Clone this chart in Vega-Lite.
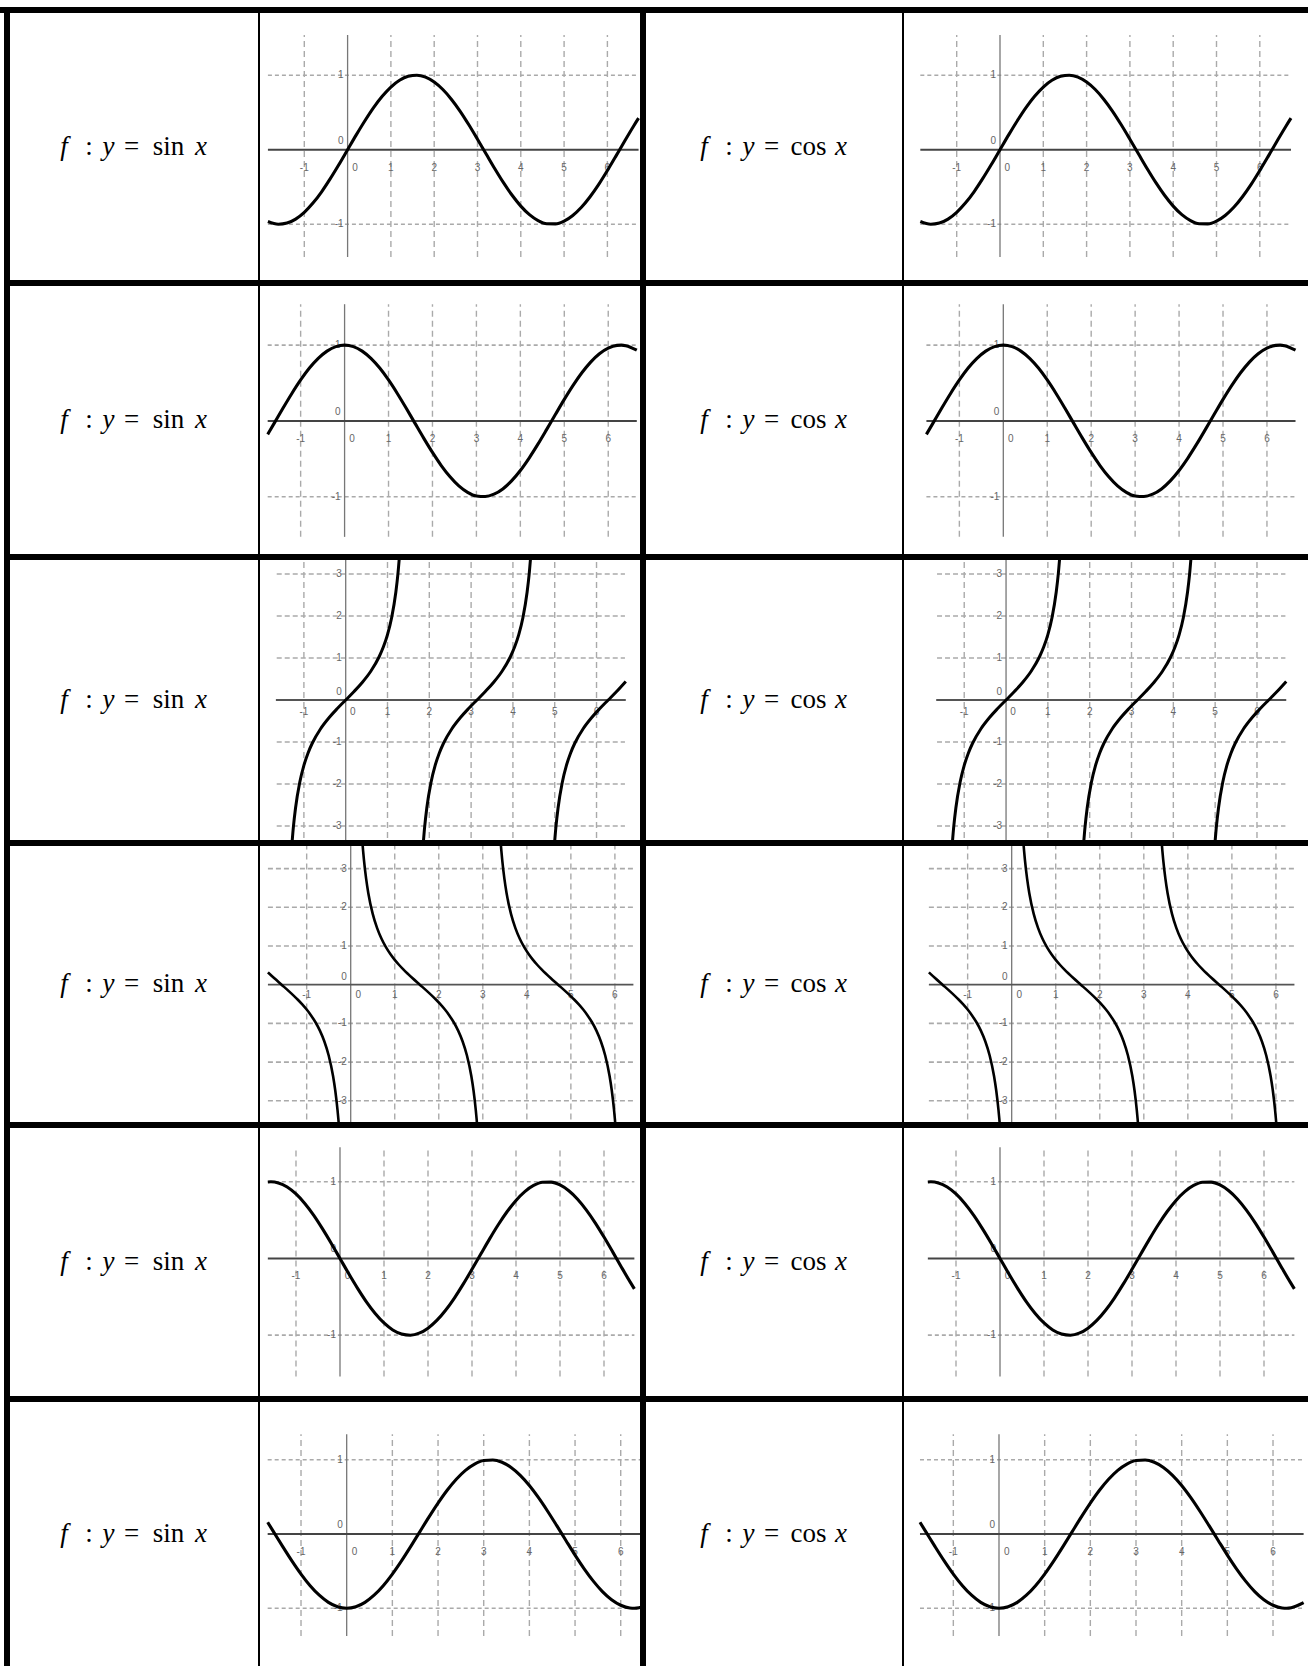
{
"$schema":"https://vega.github.io/schema/vega-lite/v6.json",
"background":"black",
"padding":0,
"config":{"view":{"fill":"white","stroke":null},
"style":{"lab":{"font":"Liberation Sans","fontSize":10,"color":"#666","baseline":"middle","align":"center"}}},
"datasets":{
"eq":[{"col":"sin","fn":"sin"},{"col":"cos","fn":"cos"}],
"pad":[{"a":0,"b":1}],
"g":[
{"r":1,"k":"v","x":-1,"y":-1.44,"y2":1.54},{"r":1,"k":"v","x":1,"y":-1.44,"y2":1.54},{"r":1,"k":"v","x":2,"y":-1.44,"y2":1.54},{"r":1,"k":"v","x":3,"y":-1.44,"y2":1.54},{"r":1,"k":"v","x":4,"y":-1.44,"y2":1.54},{"r":1,"k":"v","x":5,"y":-1.44,"y2":1.54},{"r":1,"k":"v","x":6,"y":-1.44,"y2":1.54},
{"r":1,"k":"h","y":1,"x":-1.84,"x2":6.72},{"r":1,"k":"h","y":-1,"x":-1.84,"x2":6.72},
{"r":1,"k":"ax","y":0,"x":-1.84,"x2":6.72},{"r":1,"k":"ay","x":0,"y":-1.44,"y2":1.54},
{"r":1,"k":"lx","t":"-1","x":-1,"y":-0.24},{"r":1,"k":"lx","t":"0","x":0.17,"y":-0.24},{"r":1,"k":"lx","t":"1","x":1,"y":-0.24},{"r":1,"k":"lx","t":"2","x":2,"y":-0.24},{"r":1,"k":"lx","t":"3","x":3,"y":-0.24},{"r":1,"k":"lx","t":"4","x":4,"y":-0.24},{"r":1,"k":"lx","t":"5","x":5,"y":-0.24},{"r":1,"k":"lx","t":"6","x":6,"y":-0.24},
{"r":1,"k":"ly","t":"1","x":0,"y":1},{"r":1,"k":"ly","t":"0","x":0,"y":0.12},{"r":1,"k":"ly","t":"-1","x":0,"y":-1},
{"r":2,"k":"v","x":-1,"y":-1.53,"y2":1.54},{"r":2,"k":"v","x":1,"y":-1.53,"y2":1.54},{"r":2,"k":"v","x":2,"y":-1.53,"y2":1.54},{"r":2,"k":"v","x":3,"y":-1.53,"y2":1.54},{"r":2,"k":"v","x":4,"y":-1.53,"y2":1.54},{"r":2,"k":"v","x":5,"y":-1.53,"y2":1.54},{"r":2,"k":"v","x":6,"y":-1.53,"y2":1.54},
{"r":2,"k":"h","y":1,"x":-1.75,"x2":6.65},{"r":2,"k":"h","y":-1,"x":-1.75,"x2":6.65},
{"r":2,"k":"ax","y":0,"x":-1.75,"x2":6.65},{"r":2,"k":"ay","x":0,"y":-1.53,"y2":1.54},
{"r":2,"k":"lx","t":"-1","x":-1,"y":-0.24},{"r":2,"k":"lx","t":"0","x":0.17,"y":-0.24},{"r":2,"k":"lx","t":"1","x":1,"y":-0.24},{"r":2,"k":"lx","t":"2","x":2,"y":-0.24},{"r":2,"k":"lx","t":"3","x":3,"y":-0.24},{"r":2,"k":"lx","t":"4","x":4,"y":-0.24},{"r":2,"k":"lx","t":"5","x":5,"y":-0.24},{"r":2,"k":"lx","t":"6","x":6,"y":-0.24},
{"r":2,"k":"ly","t":"1","x":0,"y":1},{"r":2,"k":"ly","t":"0","x":0,"y":0.12},{"r":2,"k":"ly","t":"-1","x":0,"y":-1},
{"r":3,"k":"v","x":-1,"y":-4,"y2":4},{"r":3,"k":"v","x":1,"y":-4,"y2":4},{"r":3,"k":"v","x":2,"y":-4,"y2":4},{"r":3,"k":"v","x":3,"y":-4,"y2":4},{"r":3,"k":"v","x":4,"y":-4,"y2":4},{"r":3,"k":"v","x":5,"y":-4,"y2":4},{"r":3,"k":"v","x":6,"y":-4,"y2":4},
{"r":3,"k":"h","y":3,"x":-1.65,"x2":6.68},{"r":3,"k":"h","y":2,"x":-1.65,"x2":6.68},{"r":3,"k":"h","y":1,"x":-1.65,"x2":6.68},{"r":3,"k":"h","y":-1,"x":-1.65,"x2":6.68},{"r":3,"k":"h","y":-2,"x":-1.65,"x2":6.68},{"r":3,"k":"h","y":-3,"x":-1.65,"x2":6.68},
{"r":3,"k":"ax","y":0,"x":-1.67,"x2":6.7},{"r":3,"k":"ay","x":0,"y":-4,"y2":4},
{"r":3,"k":"lx","t":"-1","x":-1,"y":-0.28},{"r":3,"k":"lx","t":"0","x":0.17,"y":-0.28},{"r":3,"k":"lx","t":"1","x":1,"y":-0.28},{"r":3,"k":"lx","t":"2","x":2,"y":-0.28},{"r":3,"k":"lx","t":"3","x":3,"y":-0.28},{"r":3,"k":"lx","t":"4","x":4,"y":-0.28},{"r":3,"k":"lx","t":"5","x":5,"y":-0.28},{"r":3,"k":"lx","t":"6","x":6,"y":-0.28},
{"r":3,"k":"ly","t":"3","x":0,"y":3},{"r":3,"k":"ly","t":"2","x":0,"y":2},{"r":3,"k":"ly","t":"1","x":0,"y":1},{"r":3,"k":"ly","t":"0","x":0,"y":0.18},{"r":3,"k":"ly","t":"-1","x":0,"y":-1},{"r":3,"k":"ly","t":"-2","x":0,"y":-2},{"r":3,"k":"ly","t":"-3","x":0,"y":-3},
{"r":4,"k":"v","x":-1,"y":-4,"y2":4},{"r":4,"k":"v","x":1,"y":-4,"y2":4},{"r":4,"k":"v","x":2,"y":-4,"y2":4},{"r":4,"k":"v","x":3,"y":-4,"y2":4},{"r":4,"k":"v","x":4,"y":-4,"y2":4},{"r":4,"k":"v","x":5,"y":-4,"y2":4},{"r":4,"k":"v","x":6,"y":-4,"y2":4},
{"r":4,"k":"h","y":3,"x":-1.88,"x2":6.42},{"r":4,"k":"h","y":2,"x":-1.88,"x2":6.42},{"r":4,"k":"h","y":1,"x":-1.88,"x2":6.42},{"r":4,"k":"h","y":-1,"x":-1.88,"x2":6.42},{"r":4,"k":"h","y":-2,"x":-1.88,"x2":6.42},{"r":4,"k":"h","y":-3,"x":-1.88,"x2":6.42},
{"r":4,"k":"ax","y":0,"x":-1.88,"x2":6.42},{"r":4,"k":"ay","x":0,"y":-4,"y2":4},
{"r":4,"k":"lx","t":"-1","x":-1,"y":-0.26},{"r":4,"k":"lx","t":"0","x":0.17,"y":-0.26},{"r":4,"k":"lx","t":"1","x":1,"y":-0.26},{"r":4,"k":"lx","t":"2","x":2,"y":-0.26},{"r":4,"k":"lx","t":"3","x":3,"y":-0.26},{"r":4,"k":"lx","t":"4","x":4,"y":-0.26},{"r":4,"k":"lx","t":"5","x":5,"y":-0.26},{"r":4,"k":"lx","t":"6","x":6,"y":-0.26},
{"r":4,"k":"ly","t":"3","x":0,"y":3},{"r":4,"k":"ly","t":"2","x":0,"y":2},{"r":4,"k":"ly","t":"1","x":0,"y":1},{"r":4,"k":"ly","t":"0","x":0,"y":0.2},{"r":4,"k":"ly","t":"-1","x":0,"y":-1},{"r":4,"k":"ly","t":"-2","x":0,"y":-2},{"r":4,"k":"ly","t":"-3","x":0,"y":-3},
{"r":5,"k":"v","x":-1,"y":-1.54,"y2":1.45},{"r":5,"k":"v","x":1,"y":-1.54,"y2":1.45},{"r":5,"k":"v","x":2,"y":-1.54,"y2":1.45},{"r":5,"k":"v","x":3,"y":-1.54,"y2":1.45},{"r":5,"k":"v","x":4,"y":-1.54,"y2":1.45},{"r":5,"k":"v","x":5,"y":-1.54,"y2":1.45},{"r":5,"k":"v","x":6,"y":-1.54,"y2":1.45},
{"r":5,"k":"h","y":1,"x":-1.64,"x2":6.69},{"r":5,"k":"h","y":-1,"x":-1.64,"x2":6.69},
{"r":5,"k":"ax","y":0,"x":-1.64,"x2":6.69},{"r":5,"k":"ay","x":0,"y":-1.54,"y2":1.45},
{"r":5,"k":"lx","t":"-1","x":-1,"y":-0.23},{"r":5,"k":"lx","t":"0","x":0.17,"y":-0.23},{"r":5,"k":"lx","t":"1","x":1,"y":-0.23},{"r":5,"k":"lx","t":"2","x":2,"y":-0.23},{"r":5,"k":"lx","t":"3","x":3,"y":-0.23},{"r":5,"k":"lx","t":"4","x":4,"y":-0.23},{"r":5,"k":"lx","t":"5","x":5,"y":-0.23},{"r":5,"k":"lx","t":"6","x":6,"y":-0.23},
{"r":5,"k":"ly","t":"1","x":0,"y":1},{"r":5,"k":"ly","t":"0","x":0,"y":0.12},{"r":5,"k":"ly","t":"-1","x":0,"y":-1},
{"r":6,"k":"v","x":-1,"y":-1.375,"y2":1.344},{"r":6,"k":"v","x":1,"y":-1.375,"y2":1.344},{"r":6,"k":"v","x":2,"y":-1.375,"y2":1.344},{"r":6,"k":"v","x":3,"y":-1.375,"y2":1.344},{"r":6,"k":"v","x":4,"y":-1.375,"y2":1.344},{"r":6,"k":"v","x":5,"y":-1.375,"y2":1.344},{"r":6,"k":"v","x":6,"y":-1.375,"y2":1.344},
{"r":6,"k":"h","y":1,"x":-1.73,"x2":6.67},{"r":6,"k":"h","y":-1,"x":-1.73,"x2":6.67},
{"r":6,"k":"ax","y":0,"x":-1.73,"x2":6.67},{"r":6,"k":"ay","x":0,"y":-1.375,"y2":1.344},
{"r":6,"k":"lx","t":"-1","x":-1,"y":-0.24},{"r":6,"k":"lx","t":"0","x":0.17,"y":-0.24},{"r":6,"k":"lx","t":"1","x":1,"y":-0.24},{"r":6,"k":"lx","t":"2","x":2,"y":-0.24},{"r":6,"k":"lx","t":"3","x":3,"y":-0.24},{"r":6,"k":"lx","t":"4","x":4,"y":-0.24},{"r":6,"k":"lx","t":"5","x":5,"y":-0.24},{"r":6,"k":"lx","t":"6","x":6,"y":-0.24},
{"r":6,"k":"ly","t":"1","x":0,"y":1},{"r":6,"k":"ly","t":"0","x":0,"y":0.12},{"r":6,"k":"ly","t":"-1","x":0,"y":-1},

{"r":1,"k":"c","b":1,"x":-1.84,"y":-0.964},{"r":1,"k":"c","b":1,"x":-1.6,"y":-1},{"r":1,"k":"c","b":1,"x":-1.4,"y":-0.985},{"r":1,"k":"c","b":1,"x":-1.2,"y":-0.932},{"r":1,"k":"c","b":1,"x":-1,"y":-0.841},{"r":1,"k":"c","b":1,"x":-0.8,"y":-0.717},{"r":1,"k":"c","b":1,"x":-0.6,"y":-0.565},{"r":1,"k":"c","b":1,"x":-0.4,"y":-0.389},{"r":1,"k":"c","b":1,"x":-0.2,"y":-0.199},{"r":1,"k":"c","b":1,"x":0,"y":0},{"r":1,"k":"c","b":1,"x":0.2,"y":0.199},{"r":1,"k":"c","b":1,"x":0.4,"y":0.389},{"r":1,"k":"c","b":1,"x":0.6,"y":0.565},{"r":1,"k":"c","b":1,"x":0.8,"y":0.717},{"r":1,"k":"c","b":1,"x":1,"y":0.841},{"r":1,"k":"c","b":1,"x":1.2,"y":0.932},{"r":1,"k":"c","b":1,"x":1.4,"y":0.985},{"r":1,"k":"c","b":1,"x":1.6,"y":1},{"r":1,"k":"c","b":1,"x":1.8,"y":0.974},{"r":1,"k":"c","b":1,"x":2,"y":0.909},{"r":1,"k":"c","b":1,"x":2.2,"y":0.808},{"r":1,"k":"c","b":1,"x":2.4,"y":0.675},{"r":1,"k":"c","b":1,"x":2.6,"y":0.516},{"r":1,"k":"c","b":1,"x":2.8,"y":0.335},{"r":1,"k":"c","b":1,"x":3,"y":0.141},{"r":1,"k":"c","b":1,"x":3.2,"y":-0.058},{"r":1,"k":"c","b":1,"x":3.4,"y":-0.256},{"r":1,"k":"c","b":1,"x":3.6,"y":-0.443},{"r":1,"k":"c","b":1,"x":3.8,"y":-0.612},{"r":1,"k":"c","b":1,"x":4,"y":-0.757},{"r":1,"k":"c","b":1,"x":4.2,"y":-0.872},{"r":1,"k":"c","b":1,"x":4.4,"y":-0.952},{"r":1,"k":"c","b":1,"x":4.6,"y":-0.994},{"r":1,"k":"c","b":1,"x":4.8,"y":-0.996},{"r":1,"k":"c","b":1,"x":5,"y":-0.959},{"r":1,"k":"c","b":1,"x":5.2,"y":-0.883},{"r":1,"k":"c","b":1,"x":5.4,"y":-0.773},{"r":1,"k":"c","b":1,"x":5.6,"y":-0.631},{"r":1,"k":"c","b":1,"x":5.8,"y":-0.465},{"r":1,"k":"c","b":1,"x":6,"y":-0.279},{"r":1,"k":"c","b":1,"x":6.2,"y":-0.083},{"r":1,"k":"c","b":1,"x":6.4,"y":0.117},{"r":1,"k":"c","b":1,"x":6.6,"y":0.312},{"r":1,"k":"c","b":1,"x":6.72,"y":0.423},

{"r":2,"k":"c","b":1,"x":-1.75,"y":-0.178},{"r":2,"k":"c","b":1,"x":-1.6,"y":-0.029},{"r":2,"k":"c","b":1,"x":-1.4,"y":0.17},{"r":2,"k":"c","b":1,"x":-1.2,"y":0.362},{"r":2,"k":"c","b":1,"x":-1,"y":0.54},{"r":2,"k":"c","b":1,"x":-0.8,"y":0.697},{"r":2,"k":"c","b":1,"x":-0.6,"y":0.825},{"r":2,"k":"c","b":1,"x":-0.4,"y":0.921},{"r":2,"k":"c","b":1,"x":-0.2,"y":0.98},{"r":2,"k":"c","b":1,"x":0,"y":1},{"r":2,"k":"c","b":1,"x":0.2,"y":0.98},{"r":2,"k":"c","b":1,"x":0.4,"y":0.921},{"r":2,"k":"c","b":1,"x":0.6,"y":0.825},{"r":2,"k":"c","b":1,"x":0.8,"y":0.697},{"r":2,"k":"c","b":1,"x":1,"y":0.54},{"r":2,"k":"c","b":1,"x":1.2,"y":0.362},{"r":2,"k":"c","b":1,"x":1.4,"y":0.17},{"r":2,"k":"c","b":1,"x":1.6,"y":-0.029},{"r":2,"k":"c","b":1,"x":1.8,"y":-0.227},{"r":2,"k":"c","b":1,"x":2,"y":-0.416},{"r":2,"k":"c","b":1,"x":2.2,"y":-0.589},{"r":2,"k":"c","b":1,"x":2.4,"y":-0.737},{"r":2,"k":"c","b":1,"x":2.6,"y":-0.857},{"r":2,"k":"c","b":1,"x":2.8,"y":-0.942},{"r":2,"k":"c","b":1,"x":3,"y":-0.99},{"r":2,"k":"c","b":1,"x":3.2,"y":-0.998},{"r":2,"k":"c","b":1,"x":3.4,"y":-0.967},{"r":2,"k":"c","b":1,"x":3.6,"y":-0.897},{"r":2,"k":"c","b":1,"x":3.8,"y":-0.791},{"r":2,"k":"c","b":1,"x":4,"y":-0.654},{"r":2,"k":"c","b":1,"x":4.2,"y":-0.49},{"r":2,"k":"c","b":1,"x":4.4,"y":-0.307},{"r":2,"k":"c","b":1,"x":4.6,"y":-0.112},{"r":2,"k":"c","b":1,"x":4.8,"y":0.087},{"r":2,"k":"c","b":1,"x":5,"y":0.284},{"r":2,"k":"c","b":1,"x":5.2,"y":0.469},{"r":2,"k":"c","b":1,"x":5.4,"y":0.635},{"r":2,"k":"c","b":1,"x":5.6,"y":0.776},{"r":2,"k":"c","b":1,"x":5.8,"y":0.886},{"r":2,"k":"c","b":1,"x":6,"y":0.96},{"r":2,"k":"c","b":1,"x":6.2,"y":0.997},{"r":2,"k":"c","b":1,"x":6.3,"y":1},{"r":2,"k":"c","b":1,"x":6.4,"y":0.993},{"r":2,"k":"c","b":1,"x":6.65,"y":0.933},

{"r":3,"k":"c","b":1,"x":-1.3,"y":-3.602},{"r":3,"k":"c","b":1,"x":-1.25,"y":-3.01},{"r":3,"k":"c","b":1,"x":-1.2,"y":-2.572},{"r":3,"k":"c","b":1,"x":-1.1,"y":-1.965},{"r":3,"k":"c","b":1,"x":-1,"y":-1.557},{"r":3,"k":"c","b":1,"x":-0.9,"y":-1.26},{"r":3,"k":"c","b":1,"x":-0.8,"y":-1.03},{"r":3,"k":"c","b":1,"x":-0.6,"y":-0.684},{"r":3,"k":"c","b":1,"x":-0.4,"y":-0.423},{"r":3,"k":"c","b":1,"x":-0.2,"y":-0.203},{"r":3,"k":"c","b":1,"x":0,"y":0},{"r":3,"k":"c","b":1,"x":0.2,"y":0.203},{"r":3,"k":"c","b":1,"x":0.4,"y":0.423},{"r":3,"k":"c","b":1,"x":0.6,"y":0.684},{"r":3,"k":"c","b":1,"x":0.8,"y":1.03},{"r":3,"k":"c","b":1,"x":0.9,"y":1.26},{"r":3,"k":"c","b":1,"x":1,"y":1.557},{"r":3,"k":"c","b":1,"x":1.1,"y":1.965},{"r":3,"k":"c","b":1,"x":1.2,"y":2.572},{"r":3,"k":"c","b":1,"x":1.25,"y":3.01},{"r":3,"k":"c","b":1,"x":1.3,"y":3.602},
{"r":3,"k":"c","b":2,"x":1.84,"y":-3.602},{"r":3,"k":"c","b":2,"x":1.89,"y":-3.01},{"r":3,"k":"c","b":2,"x":1.94,"y":-2.572},{"r":3,"k":"c","b":2,"x":2.04,"y":-1.965},{"r":3,"k":"c","b":2,"x":2.14,"y":-1.557},{"r":3,"k":"c","b":2,"x":2.24,"y":-1.26},{"r":3,"k":"c","b":2,"x":2.34,"y":-1.03},{"r":3,"k":"c","b":2,"x":2.54,"y":-0.684},{"r":3,"k":"c","b":2,"x":2.74,"y":-0.423},{"r":3,"k":"c","b":2,"x":2.94,"y":-0.203},{"r":3,"k":"c","b":2,"x":3.14,"y":0},{"r":3,"k":"c","b":2,"x":3.34,"y":0.203},{"r":3,"k":"c","b":2,"x":3.54,"y":0.423},{"r":3,"k":"c","b":2,"x":3.74,"y":0.684},{"r":3,"k":"c","b":2,"x":3.94,"y":1.03},{"r":3,"k":"c","b":2,"x":4.04,"y":1.26},{"r":3,"k":"c","b":2,"x":4.14,"y":1.557},{"r":3,"k":"c","b":2,"x":4.24,"y":1.965},{"r":3,"k":"c","b":2,"x":4.34,"y":2.572},{"r":3,"k":"c","b":2,"x":4.39,"y":3.01},{"r":3,"k":"c","b":2,"x":4.44,"y":3.602},
{"r":3,"k":"c","b":3,"x":4.98,"y":-3.602},{"r":3,"k":"c","b":3,"x":5.03,"y":-3.01},{"r":3,"k":"c","b":3,"x":5.08,"y":-2.572},{"r":3,"k":"c","b":3,"x":5.18,"y":-1.965},{"r":3,"k":"c","b":3,"x":5.28,"y":-1.557},{"r":3,"k":"c","b":3,"x":5.38,"y":-1.26},{"r":3,"k":"c","b":3,"x":5.48,"y":-1.03},{"r":3,"k":"c","b":3,"x":5.68,"y":-0.684},{"r":3,"k":"c","b":3,"x":5.88,"y":-0.423},{"r":3,"k":"c","b":3,"x":6.08,"y":-0.203},{"r":3,"k":"c","b":3,"x":6.28,"y":0},{"r":3,"k":"c","b":3,"x":6.48,"y":0.203},{"r":3,"k":"c","b":3,"x":6.7,"y":0.443},

{"r":4,"k":"c","b":1,"x":-1.88,"y":0.319},{"r":4,"k":"c","b":1,"x":-1.74,"y":0.172},{"r":4,"k":"c","b":1,"x":-1.57,"y":0},{"r":4,"k":"c","b":1,"x":-1.4,"y":-0.172},{"r":4,"k":"c","b":1,"x":-1.2,"y":-0.389},{"r":4,"k":"c","b":1,"x":-1.1,"y":-0.509},{"r":4,"k":"c","b":1,"x":-1,"y":-0.642},{"r":4,"k":"c","b":1,"x":-0.9,"y":-0.794},{"r":4,"k":"c","b":1,"x":-0.8,"y":-0.971},{"r":4,"k":"c","b":1,"x":-0.7,"y":-1.187},{"r":4,"k":"c","b":1,"x":-0.6,"y":-1.462},{"r":4,"k":"c","b":1,"x":-0.5,"y":-1.83},{"r":4,"k":"c","b":1,"x":-0.4,"y":-2.365},{"r":4,"k":"c","b":1,"x":-0.35,"y":-2.74},{"r":4,"k":"c","b":1,"x":-0.3,"y":-3.233},{"r":4,"k":"c","b":1,"x":-0.28,"y":-3.477},{"r":4,"k":"c","b":1,"x":-0.26,"y":-3.759},
{"r":4,"k":"c","b":2,"x":0.26,"y":3.759},{"r":4,"k":"c","b":2,"x":0.28,"y":3.477},{"r":4,"k":"c","b":2,"x":0.3,"y":3.233},{"r":4,"k":"c","b":2,"x":0.35,"y":2.74},{"r":4,"k":"c","b":2,"x":0.4,"y":2.365},{"r":4,"k":"c","b":2,"x":0.5,"y":1.83},{"r":4,"k":"c","b":2,"x":0.6,"y":1.462},{"r":4,"k":"c","b":2,"x":0.7,"y":1.187},{"r":4,"k":"c","b":2,"x":0.8,"y":0.971},{"r":4,"k":"c","b":2,"x":0.9,"y":0.794},{"r":4,"k":"c","b":2,"x":1,"y":0.642},{"r":4,"k":"c","b":2,"x":1.1,"y":0.509},{"r":4,"k":"c","b":2,"x":1.2,"y":0.389},{"r":4,"k":"c","b":2,"x":1.4,"y":0.172},{"r":4,"k":"c","b":2,"x":1.57,"y":0},{"r":4,"k":"c","b":2,"x":1.74,"y":-0.172},{"r":4,"k":"c","b":2,"x":1.94,"y":-0.389},{"r":4,"k":"c","b":2,"x":2.04,"y":-0.509},{"r":4,"k":"c","b":2,"x":2.14,"y":-0.642},{"r":4,"k":"c","b":2,"x":2.24,"y":-0.794},{"r":4,"k":"c","b":2,"x":2.34,"y":-0.971},{"r":4,"k":"c","b":2,"x":2.44,"y":-1.187},{"r":4,"k":"c","b":2,"x":2.54,"y":-1.462},{"r":4,"k":"c","b":2,"x":2.64,"y":-1.83},{"r":4,"k":"c","b":2,"x":2.74,"y":-2.365},{"r":4,"k":"c","b":2,"x":2.79,"y":-2.74},{"r":4,"k":"c","b":2,"x":2.84,"y":-3.233},{"r":4,"k":"c","b":2,"x":2.86,"y":-3.477},{"r":4,"k":"c","b":2,"x":2.88,"y":-3.759},
{"r":4,"k":"c","b":3,"x":3.4,"y":3.759},{"r":4,"k":"c","b":3,"x":3.42,"y":3.477},{"r":4,"k":"c","b":3,"x":3.44,"y":3.233},{"r":4,"k":"c","b":3,"x":3.49,"y":2.74},{"r":4,"k":"c","b":3,"x":3.54,"y":2.365},{"r":4,"k":"c","b":3,"x":3.64,"y":1.83},{"r":4,"k":"c","b":3,"x":3.74,"y":1.462},{"r":4,"k":"c","b":3,"x":3.84,"y":1.187},{"r":4,"k":"c","b":3,"x":3.94,"y":0.971},{"r":4,"k":"c","b":3,"x":4.04,"y":0.794},{"r":4,"k":"c","b":3,"x":4.14,"y":0.642},{"r":4,"k":"c","b":3,"x":4.24,"y":0.509},{"r":4,"k":"c","b":3,"x":4.34,"y":0.389},{"r":4,"k":"c","b":3,"x":4.54,"y":0.172},{"r":4,"k":"c","b":3,"x":4.71,"y":0},{"r":4,"k":"c","b":3,"x":4.88,"y":-0.172},{"r":4,"k":"c","b":3,"x":5.08,"y":-0.389},{"r":4,"k":"c","b":3,"x":5.18,"y":-0.509},{"r":4,"k":"c","b":3,"x":5.28,"y":-0.642},{"r":4,"k":"c","b":3,"x":5.38,"y":-0.794},{"r":4,"k":"c","b":3,"x":5.48,"y":-0.971},{"r":4,"k":"c","b":3,"x":5.58,"y":-1.187},{"r":4,"k":"c","b":3,"x":5.68,"y":-1.462},{"r":4,"k":"c","b":3,"x":5.78,"y":-1.83},{"r":4,"k":"c","b":3,"x":5.88,"y":-2.365},{"r":4,"k":"c","b":3,"x":5.93,"y":-2.74},{"r":4,"k":"c","b":3,"x":5.98,"y":-3.233},{"r":4,"k":"c","b":3,"x":6,"y":-3.477},{"r":4,"k":"c","b":3,"x":6.02,"y":-3.759},

{"r":5,"k":"c","b":1,"x":-1.64,"y":0.998},{"r":5,"k":"c","b":1,"x":-1.57,"y":1},{"r":5,"k":"c","b":1,"x":-1.4,"y":0.985},{"r":5,"k":"c","b":1,"x":-1.2,"y":0.932},{"r":5,"k":"c","b":1,"x":-1,"y":0.841},{"r":5,"k":"c","b":1,"x":-0.8,"y":0.717},{"r":5,"k":"c","b":1,"x":-0.6,"y":0.565},{"r":5,"k":"c","b":1,"x":-0.4,"y":0.389},{"r":5,"k":"c","b":1,"x":-0.2,"y":0.199},{"r":5,"k":"c","b":1,"x":0,"y":0},{"r":5,"k":"c","b":1,"x":0.2,"y":-0.199},{"r":5,"k":"c","b":1,"x":0.4,"y":-0.389},{"r":5,"k":"c","b":1,"x":0.6,"y":-0.565},{"r":5,"k":"c","b":1,"x":0.8,"y":-0.717},{"r":5,"k":"c","b":1,"x":1,"y":-0.841},{"r":5,"k":"c","b":1,"x":1.2,"y":-0.932},{"r":5,"k":"c","b":1,"x":1.4,"y":-0.985},{"r":5,"k":"c","b":1,"x":1.6,"y":-1},{"r":5,"k":"c","b":1,"x":1.8,"y":-0.974},{"r":5,"k":"c","b":1,"x":2,"y":-0.909},{"r":5,"k":"c","b":1,"x":2.2,"y":-0.808},{"r":5,"k":"c","b":1,"x":2.4,"y":-0.675},{"r":5,"k":"c","b":1,"x":2.6,"y":-0.516},{"r":5,"k":"c","b":1,"x":2.8,"y":-0.335},{"r":5,"k":"c","b":1,"x":3,"y":-0.141},{"r":5,"k":"c","b":1,"x":3.2,"y":0.058},{"r":5,"k":"c","b":1,"x":3.4,"y":0.256},{"r":5,"k":"c","b":1,"x":3.6,"y":0.443},{"r":5,"k":"c","b":1,"x":3.8,"y":0.612},{"r":5,"k":"c","b":1,"x":4,"y":0.757},{"r":5,"k":"c","b":1,"x":4.2,"y":0.872},{"r":5,"k":"c","b":1,"x":4.4,"y":0.952},{"r":5,"k":"c","b":1,"x":4.6,"y":0.994},{"r":5,"k":"c","b":1,"x":4.8,"y":0.996},{"r":5,"k":"c","b":1,"x":5,"y":0.959},{"r":5,"k":"c","b":1,"x":5.2,"y":0.883},{"r":5,"k":"c","b":1,"x":5.4,"y":0.773},{"r":5,"k":"c","b":1,"x":5.6,"y":0.631},{"r":5,"k":"c","b":1,"x":5.8,"y":0.465},{"r":5,"k":"c","b":1,"x":6,"y":0.279},{"r":5,"k":"c","b":1,"x":6.2,"y":0.083},{"r":5,"k":"c","b":1,"x":6.4,"y":-0.117},{"r":5,"k":"c","b":1,"x":6.6,"y":-0.312},{"r":5,"k":"c","b":1,"x":6.69,"y":-0.396},

{"r":6,"k":"c","b":1,"x":-1.73,"y":0.158},{"r":6,"k":"c","b":1,"x":-1.6,"y":0.029},{"r":6,"k":"c","b":1,"x":-1.4,"y":-0.17},{"r":6,"k":"c","b":1,"x":-1.2,"y":-0.362},{"r":6,"k":"c","b":1,"x":-1,"y":-0.54},{"r":6,"k":"c","b":1,"x":-0.8,"y":-0.697},{"r":6,"k":"c","b":1,"x":-0.6,"y":-0.825},{"r":6,"k":"c","b":1,"x":-0.4,"y":-0.921},{"r":6,"k":"c","b":1,"x":-0.2,"y":-0.98},{"r":6,"k":"c","b":1,"x":0,"y":-1},{"r":6,"k":"c","b":1,"x":0.2,"y":-0.98},{"r":6,"k":"c","b":1,"x":0.4,"y":-0.921},{"r":6,"k":"c","b":1,"x":0.6,"y":-0.825},{"r":6,"k":"c","b":1,"x":0.8,"y":-0.697},{"r":6,"k":"c","b":1,"x":1,"y":-0.54},{"r":6,"k":"c","b":1,"x":1.2,"y":-0.362},{"r":6,"k":"c","b":1,"x":1.4,"y":-0.17},{"r":6,"k":"c","b":1,"x":1.6,"y":0.029},{"r":6,"k":"c","b":1,"x":1.8,"y":0.227},{"r":6,"k":"c","b":1,"x":2,"y":0.416},{"r":6,"k":"c","b":1,"x":2.2,"y":0.589},{"r":6,"k":"c","b":1,"x":2.4,"y":0.737},{"r":6,"k":"c","b":1,"x":2.6,"y":0.857},{"r":6,"k":"c","b":1,"x":2.8,"y":0.942},{"r":6,"k":"c","b":1,"x":3,"y":0.99},{"r":6,"k":"c","b":1,"x":3.2,"y":0.998},{"r":6,"k":"c","b":1,"x":3.4,"y":0.967},{"r":6,"k":"c","b":1,"x":3.6,"y":0.897},{"r":6,"k":"c","b":1,"x":3.8,"y":0.791},{"r":6,"k":"c","b":1,"x":4,"y":0.654},{"r":6,"k":"c","b":1,"x":4.2,"y":0.49},{"r":6,"k":"c","b":1,"x":4.4,"y":0.307},{"r":6,"k":"c","b":1,"x":4.6,"y":0.112},{"r":6,"k":"c","b":1,"x":4.8,"y":-0.087},{"r":6,"k":"c","b":1,"x":5,"y":-0.284},{"r":6,"k":"c","b":1,"x":5.2,"y":-0.469},{"r":6,"k":"c","b":1,"x":5.4,"y":-0.635},{"r":6,"k":"c","b":1,"x":5.6,"y":-0.776},{"r":6,"k":"c","b":1,"x":5.8,"y":-0.886},{"r":6,"k":"c","b":1,"x":6,"y":-0.96},{"r":6,"k":"c","b":1,"x":6.2,"y":-0.997},{"r":6,"k":"c","b":1,"x":6.3,"y":-1},{"r":6,"k":"c","b":1,"x":6.4,"y":-0.993},{"r":6,"k":"c","b":1,"x":6.67,"y":-0.926}
]},
"spacing":6,
"vconcat":[
{"width":1308,"height":7,"data":{"name":"pad"},"mark":{"type":"rect","color":"white"},"encoding":{"x":{"field":"a","type":"quantitative","scale":{"domain":[0,1]},"axis":null},"x2":{"field":"b"},"y":{"field":"a","type":"quantitative","scale":{"domain":[0,1]},"axis":null},"y2":{"field":"b"}}},
{"spacing":6,"hconcat":[
{"width":4,"height":1653,"data":{"name":"pad"},"mark":{"type":"rect","color":"white"},"encoding":{"x":{"field":"a","type":"quantitative","scale":{"domain":[0,1]},"axis":null},"x2":{"field":"b"},"y":{"field":"a","type":"quantitative","scale":{"domain":[0,1]},"axis":null},"y2":{"field":"b"}}},
{"spacing":6,"vconcat":[

{"spacing":6,"hconcat":[
{"spacing":2,"hconcat":[
{"width":248,"height":267,"data":{"name":"eq"},"transform":[{"filter":"datum.col=='sin'"}],"layer":[
{"mark":{"type":"rect","color":"white"},"encoding":{}},
{"mark":{"type":"text","text":"f","font":"Liberation Serif","fontSize":27,"fontStyle":"italic","align":"center","baseline":"alphabetic","color":"black","dx":-70,"dy":8}},{"mark":{"type":"text","text":":","font":"Liberation Serif","fontSize":27,"align":"center","baseline":"alphabetic","color":"black","dx":-45,"dy":8}},{"mark":{"type":"text","text":"y","font":"Liberation Serif","fontSize":27,"fontStyle":"italic","align":"center","baseline":"alphabetic","color":"black","dx":-25.5,"dy":8}},{"mark":{"type":"text","text":"=","font":"Liberation Serif","fontSize":27,"align":"center","baseline":"alphabetic","color":"black","dx":-2.5,"dy":8}},{"mark":{"type":"text","font":"Liberation Serif","fontSize":27,"align":"center","baseline":"alphabetic","color":"black","dx":34.5,"dy":8},"encoding":{"text":{"field":"fn"}}},{"mark":{"type":"text","text":"x","font":"Liberation Serif","fontSize":27,"fontStyle":"italic","align":"center","baseline":"alphabetic","color":"black","dx":67,"dy":8}}]},
{"width":380,"height":267,"data":{"name":"g"},"transform":[{"filter":"datum.r==1"}],
"encoding":{"x":{"field":"x","type":"quantitative","scale":{"domain":[-2.023,6.753],"nice":false,"zero":false},"axis":null},"y":{"field":"y","type":"quantitative","scale":{"domain":[-1.749,1.835],"nice":false,"zero":false},"axis":null}},
"layer":[
{"transform":[{"filter":"datum.k=='v'"}],"mark":{"type":"rule","color":"#aaaaaa","strokeWidth":1.4,"strokeDash":[6,4],"clip":true},"encoding":{"y2":{"field":"y2"}}},
{"transform":[{"filter":"datum.k=='h'"}],"mark":{"type":"rule","color":"#aaaaaa","strokeWidth":1.6,"strokeDash":[4,3],"clip":true},"encoding":{"x2":{"field":"x2"}}},
{"transform":[{"filter":"datum.k=='ay'"}],"mark":{"type":"rule","color":"#777777","strokeWidth":1.3,"clip":true},"encoding":{"y2":{"field":"y2"}}},
{"transform":[{"filter":"datum.k=='ax'"}],"mark":{"type":"rule","color":"#444444","strokeWidth":2,"clip":true},"encoding":{"x2":{"field":"x2"}}},
{"transform":[{"filter":"datum.k=='lx'"}],"mark":{"type":"text","style":"lab"},"encoding":{"text":{"field":"t"}}},
{"transform":[{"filter":"datum.k=='ly'"}],"mark":{"type":"text","style":"lab","align":"right","dx":-4},"encoding":{"text":{"field":"t"}}},
{"transform":[{"filter":"datum.k=='c'"}],"mark":{"type":"line","color":"black","strokeWidth":3.1,"interpolate":"monotone","clip":true},"encoding":{"detail":{"field":"b"}}}]}]},
{"spacing":2,"hconcat":[
{"width":256,"height":267,"data":{"name":"eq"},"transform":[{"filter":"datum.col=='cos'"}],"layer":[
{"mark":{"type":"rect","color":"white"},"encoding":{}},
{"mark":{"type":"text","text":"f","font":"Liberation Serif","fontSize":27,"fontStyle":"italic","align":"center","baseline":"alphabetic","color":"black","dx":-70,"dy":8}},{"mark":{"type":"text","text":":","font":"Liberation Serif","fontSize":27,"align":"center","baseline":"alphabetic","color":"black","dx":-45,"dy":8}},{"mark":{"type":"text","text":"y","font":"Liberation Serif","fontSize":27,"fontStyle":"italic","align":"center","baseline":"alphabetic","color":"black","dx":-25.5,"dy":8}},{"mark":{"type":"text","text":"=","font":"Liberation Serif","fontSize":27,"align":"center","baseline":"alphabetic","color":"black","dx":-2.5,"dy":8}},{"mark":{"type":"text","font":"Liberation Serif","fontSize":27,"align":"center","baseline":"alphabetic","color":"black","dx":34.5,"dy":8},"encoding":{"text":{"field":"fn"}}},{"mark":{"type":"text","text":"x","font":"Liberation Serif","fontSize":27,"fontStyle":"italic","align":"center","baseline":"alphabetic","color":"black","dx":67,"dy":8}}]},
{"width":404,"height":267,"data":{"name":"g"},"transform":[{"filter":"datum.r==1"}],
"encoding":{"x":{"field":"x","type":"quantitative","scale":{"domain":[-2.217,7.113],"nice":false,"zero":false},"axis":null},"y":{"field":"y","type":"quantitative","scale":{"domain":[-1.749,1.835],"nice":false,"zero":false},"axis":null}},
"layer":[
{"transform":[{"filter":"datum.k=='v'"}],"mark":{"type":"rule","color":"#aaaaaa","strokeWidth":1.4,"strokeDash":[6,4],"clip":true},"encoding":{"y2":{"field":"y2"}}},
{"transform":[{"filter":"datum.k=='h'"}],"mark":{"type":"rule","color":"#aaaaaa","strokeWidth":1.6,"strokeDash":[4,3],"clip":true},"encoding":{"x2":{"field":"x2"}}},
{"transform":[{"filter":"datum.k=='ay'"}],"mark":{"type":"rule","color":"#777777","strokeWidth":1.3,"clip":true},"encoding":{"y2":{"field":"y2"}}},
{"transform":[{"filter":"datum.k=='ax'"}],"mark":{"type":"rule","color":"#444444","strokeWidth":2,"clip":true},"encoding":{"x2":{"field":"x2"}}},
{"transform":[{"filter":"datum.k=='lx'"}],"mark":{"type":"text","style":"lab"},"encoding":{"text":{"field":"t"}}},
{"transform":[{"filter":"datum.k=='ly'"}],"mark":{"type":"text","style":"lab","align":"right","dx":-4},"encoding":{"text":{"field":"t"}}},
{"transform":[{"filter":"datum.k=='c'"}],"mark":{"type":"line","color":"black","strokeWidth":3.1,"interpolate":"monotone","clip":true},"encoding":{"detail":{"field":"b"}}}]}]}]},

{"spacing":6,"hconcat":[
{"spacing":2,"hconcat":[
{"width":248,"height":268,"data":{"name":"eq"},"transform":[{"filter":"datum.col=='sin'"}],"layer":[
{"mark":{"type":"rect","color":"white"},"encoding":{}},
{"mark":{"type":"text","text":"f","font":"Liberation Serif","fontSize":27,"fontStyle":"italic","align":"center","baseline":"alphabetic","color":"black","dx":-70,"dy":8}},{"mark":{"type":"text","text":":","font":"Liberation Serif","fontSize":27,"align":"center","baseline":"alphabetic","color":"black","dx":-45,"dy":8}},{"mark":{"type":"text","text":"y","font":"Liberation Serif","fontSize":27,"fontStyle":"italic","align":"center","baseline":"alphabetic","color":"black","dx":-25.5,"dy":8}},{"mark":{"type":"text","text":"=","font":"Liberation Serif","fontSize":27,"align":"center","baseline":"alphabetic","color":"black","dx":-2.5,"dy":8}},{"mark":{"type":"text","font":"Liberation Serif","fontSize":27,"align":"center","baseline":"alphabetic","color":"black","dx":34.5,"dy":8},"encoding":{"text":{"field":"fn"}}},{"mark":{"type":"text","text":"x","font":"Liberation Serif","fontSize":27,"fontStyle":"italic","align":"center","baseline":"alphabetic","color":"black","dx":67,"dy":8}}]},
{"width":380,"height":268,"data":{"name":"g"},"transform":[{"filter":"datum.r==2"}],
"encoding":{"x":{"field":"x","type":"quantitative","scale":{"domain":[-1.925,6.723],"nice":false,"zero":false},"axis":null},"y":{"field":"y","type":"quantitative","scale":{"domain":[-1.756,1.78],"nice":false,"zero":false},"axis":null}},
"layer":[
{"transform":[{"filter":"datum.k=='v'"}],"mark":{"type":"rule","color":"#aaaaaa","strokeWidth":1.4,"strokeDash":[6,4],"clip":true},"encoding":{"y2":{"field":"y2"}}},
{"transform":[{"filter":"datum.k=='h'"}],"mark":{"type":"rule","color":"#aaaaaa","strokeWidth":1.6,"strokeDash":[4,3],"clip":true},"encoding":{"x2":{"field":"x2"}}},
{"transform":[{"filter":"datum.k=='ay'"}],"mark":{"type":"rule","color":"#777777","strokeWidth":1.3,"clip":true},"encoding":{"y2":{"field":"y2"}}},
{"transform":[{"filter":"datum.k=='ax'"}],"mark":{"type":"rule","color":"#444444","strokeWidth":2,"clip":true},"encoding":{"x2":{"field":"x2"}}},
{"transform":[{"filter":"datum.k=='lx'"}],"mark":{"type":"text","style":"lab"},"encoding":{"text":{"field":"t"}}},
{"transform":[{"filter":"datum.k=='ly'"}],"mark":{"type":"text","style":"lab","align":"right","dx":-4},"encoding":{"text":{"field":"t"}}},
{"transform":[{"filter":"datum.k=='c'"}],"mark":{"type":"line","color":"black","strokeWidth":3.1,"interpolate":"monotone","clip":true},"encoding":{"detail":{"field":"b"}}}]}]},
{"spacing":2,"hconcat":[
{"width":256,"height":268,"data":{"name":"eq"},"transform":[{"filter":"datum.col=='cos'"}],"layer":[
{"mark":{"type":"rect","color":"white"},"encoding":{}},
{"mark":{"type":"text","text":"f","font":"Liberation Serif","fontSize":27,"fontStyle":"italic","align":"center","baseline":"alphabetic","color":"black","dx":-70,"dy":8}},{"mark":{"type":"text","text":":","font":"Liberation Serif","fontSize":27,"align":"center","baseline":"alphabetic","color":"black","dx":-45,"dy":8}},{"mark":{"type":"text","text":"y","font":"Liberation Serif","fontSize":27,"fontStyle":"italic","align":"center","baseline":"alphabetic","color":"black","dx":-25.5,"dy":8}},{"mark":{"type":"text","text":"=","font":"Liberation Serif","fontSize":27,"align":"center","baseline":"alphabetic","color":"black","dx":-2.5,"dy":8}},{"mark":{"type":"text","font":"Liberation Serif","fontSize":27,"align":"center","baseline":"alphabetic","color":"black","dx":34.5,"dy":8},"encoding":{"text":{"field":"fn"}}},{"mark":{"type":"text","text":"x","font":"Liberation Serif","fontSize":27,"fontStyle":"italic","align":"center","baseline":"alphabetic","color":"black","dx":67,"dy":8}}]},
{"width":404,"height":268,"data":{"name":"g"},"transform":[{"filter":"datum.r==2"}],
"encoding":{"x":{"field":"x","type":"quantitative","scale":{"domain":[-2.26,6.934],"nice":false,"zero":false},"axis":null},"y":{"field":"y","type":"quantitative","scale":{"domain":[-1.756,1.78],"nice":false,"zero":false},"axis":null}},
"layer":[
{"transform":[{"filter":"datum.k=='v'"}],"mark":{"type":"rule","color":"#aaaaaa","strokeWidth":1.4,"strokeDash":[6,4],"clip":true},"encoding":{"y2":{"field":"y2"}}},
{"transform":[{"filter":"datum.k=='h'"}],"mark":{"type":"rule","color":"#aaaaaa","strokeWidth":1.6,"strokeDash":[4,3],"clip":true},"encoding":{"x2":{"field":"x2"}}},
{"transform":[{"filter":"datum.k=='ay'"}],"mark":{"type":"rule","color":"#777777","strokeWidth":1.3,"clip":true},"encoding":{"y2":{"field":"y2"}}},
{"transform":[{"filter":"datum.k=='ax'"}],"mark":{"type":"rule","color":"#444444","strokeWidth":2,"clip":true},"encoding":{"x2":{"field":"x2"}}},
{"transform":[{"filter":"datum.k=='lx'"}],"mark":{"type":"text","style":"lab"},"encoding":{"text":{"field":"t"}}},
{"transform":[{"filter":"datum.k=='ly'"}],"mark":{"type":"text","style":"lab","align":"right","dx":-4},"encoding":{"text":{"field":"t"}}},
{"transform":[{"filter":"datum.k=='c'"}],"mark":{"type":"line","color":"black","strokeWidth":3.1,"interpolate":"monotone","clip":true},"encoding":{"detail":{"field":"b"}}}]}]}]},

{"spacing":6,"hconcat":[
{"spacing":2,"hconcat":[
{"width":248,"height":280,"data":{"name":"eq"},"transform":[{"filter":"datum.col=='sin'"}],"layer":[
{"mark":{"type":"rect","color":"white"},"encoding":{}},
{"mark":{"type":"text","text":"f","font":"Liberation Serif","fontSize":27,"fontStyle":"italic","align":"center","baseline":"alphabetic","color":"black","dx":-70,"dy":8}},{"mark":{"type":"text","text":":","font":"Liberation Serif","fontSize":27,"align":"center","baseline":"alphabetic","color":"black","dx":-45,"dy":8}},{"mark":{"type":"text","text":"y","font":"Liberation Serif","fontSize":27,"fontStyle":"italic","align":"center","baseline":"alphabetic","color":"black","dx":-25.5,"dy":8}},{"mark":{"type":"text","text":"=","font":"Liberation Serif","fontSize":27,"align":"center","baseline":"alphabetic","color":"black","dx":-2.5,"dy":8}},{"mark":{"type":"text","font":"Liberation Serif","fontSize":27,"align":"center","baseline":"alphabetic","color":"black","dx":34.5,"dy":8},"encoding":{"text":{"field":"fn"}}},{"mark":{"type":"text","text":"x","font":"Liberation Serif","fontSize":27,"fontStyle":"italic","align":"center","baseline":"alphabetic","color":"black","dx":67,"dy":8}}]},
{"width":380,"height":280,"data":{"name":"g"},"transform":[{"filter":"datum.r==3"}],
"encoding":{"x":{"field":"x","type":"quantitative","scale":{"domain":[-2.05,7.04],"nice":false,"zero":false},"axis":null},"y":{"field":"y","type":"quantitative","scale":{"domain":[-3.333,3.333],"nice":false,"zero":false},"axis":null}},
"layer":[
{"transform":[{"filter":"datum.k=='v'"}],"mark":{"type":"rule","color":"#aaaaaa","strokeWidth":1.4,"strokeDash":[6,4],"clip":true},"encoding":{"y2":{"field":"y2"}}},
{"transform":[{"filter":"datum.k=='h'"}],"mark":{"type":"rule","color":"#aaaaaa","strokeWidth":1.6,"strokeDash":[5,3],"clip":true},"encoding":{"x2":{"field":"x2"}}},
{"transform":[{"filter":"datum.k=='ay'"}],"mark":{"type":"rule","color":"#777777","strokeWidth":1.3,"clip":true},"encoding":{"y2":{"field":"y2"}}},
{"transform":[{"filter":"datum.k=='ax'"}],"mark":{"type":"rule","color":"#555555","strokeWidth":1.8,"clip":true},"encoding":{"x2":{"field":"x2"}}},
{"transform":[{"filter":"datum.k=='lx'"}],"mark":{"type":"text","style":"lab"},"encoding":{"text":{"field":"t"}}},
{"transform":[{"filter":"datum.k=='ly'"}],"mark":{"type":"text","style":"lab","align":"right","dx":-4},"encoding":{"text":{"field":"t"}}},
{"transform":[{"filter":"datum.k=='c'"}],"mark":{"type":"line","color":"black","strokeWidth":3,"interpolate":"monotone","clip":true},"encoding":{"detail":{"field":"b"}}}]}]},
{"spacing":2,"hconcat":[
{"width":256,"height":280,"data":{"name":"eq"},"transform":[{"filter":"datum.col=='cos'"}],"layer":[
{"mark":{"type":"rect","color":"white"},"encoding":{}},
{"mark":{"type":"text","text":"f","font":"Liberation Serif","fontSize":27,"fontStyle":"italic","align":"center","baseline":"alphabetic","color":"black","dx":-70,"dy":8}},{"mark":{"type":"text","text":":","font":"Liberation Serif","fontSize":27,"align":"center","baseline":"alphabetic","color":"black","dx":-45,"dy":8}},{"mark":{"type":"text","text":"y","font":"Liberation Serif","fontSize":27,"fontStyle":"italic","align":"center","baseline":"alphabetic","color":"black","dx":-25.5,"dy":8}},{"mark":{"type":"text","text":"=","font":"Liberation Serif","fontSize":27,"align":"center","baseline":"alphabetic","color":"black","dx":-2.5,"dy":8}},{"mark":{"type":"text","font":"Liberation Serif","fontSize":27,"align":"center","baseline":"alphabetic","color":"black","dx":34.5,"dy":8},"encoding":{"text":{"field":"fn"}}},{"mark":{"type":"text","text":"x","font":"Liberation Serif","fontSize":27,"fontStyle":"italic","align":"center","baseline":"alphabetic","color":"black","dx":67,"dy":8}}]},
{"width":404,"height":280,"data":{"name":"g"},"transform":[{"filter":"datum.r==3"}],
"encoding":{"x":{"field":"x","type":"quantitative","scale":{"domain":[-2.44,7.22],"nice":false,"zero":false},"axis":null},"y":{"field":"y","type":"quantitative","scale":{"domain":[-3.333,3.333],"nice":false,"zero":false},"axis":null}},
"layer":[
{"transform":[{"filter":"datum.k=='v'"}],"mark":{"type":"rule","color":"#aaaaaa","strokeWidth":1.4,"strokeDash":[6,4],"clip":true},"encoding":{"y2":{"field":"y2"}}},
{"transform":[{"filter":"datum.k=='h'"}],"mark":{"type":"rule","color":"#aaaaaa","strokeWidth":1.6,"strokeDash":[5,3],"clip":true},"encoding":{"x2":{"field":"x2"}}},
{"transform":[{"filter":"datum.k=='ay'"}],"mark":{"type":"rule","color":"#777777","strokeWidth":1.3,"clip":true},"encoding":{"y2":{"field":"y2"}}},
{"transform":[{"filter":"datum.k=='ax'"}],"mark":{"type":"rule","color":"#555555","strokeWidth":1.8,"clip":true},"encoding":{"x2":{"field":"x2"}}},
{"transform":[{"filter":"datum.k=='lx'"}],"mark":{"type":"text","style":"lab"},"encoding":{"text":{"field":"t"}}},
{"transform":[{"filter":"datum.k=='ly'"}],"mark":{"type":"text","style":"lab","align":"right","dx":-4},"encoding":{"text":{"field":"t"}}},
{"transform":[{"filter":"datum.k=='c'"}],"mark":{"type":"line","color":"black","strokeWidth":3,"interpolate":"monotone","clip":true},"encoding":{"detail":{"field":"b"}}}]}]}]},

{"spacing":6,"hconcat":[
{"spacing":2,"hconcat":[
{"width":248,"height":276,"data":{"name":"eq"},"transform":[{"filter":"datum.col=='sin'"}],"layer":[
{"mark":{"type":"rect","color":"white"},"encoding":{}},
{"mark":{"type":"text","text":"f","font":"Liberation Serif","fontSize":27,"fontStyle":"italic","align":"center","baseline":"alphabetic","color":"black","dx":-70,"dy":8}},{"mark":{"type":"text","text":":","font":"Liberation Serif","fontSize":27,"align":"center","baseline":"alphabetic","color":"black","dx":-45,"dy":8}},{"mark":{"type":"text","text":"y","font":"Liberation Serif","fontSize":27,"fontStyle":"italic","align":"center","baseline":"alphabetic","color":"black","dx":-25.5,"dy":8}},{"mark":{"type":"text","text":"=","font":"Liberation Serif","fontSize":27,"align":"center","baseline":"alphabetic","color":"black","dx":-2.5,"dy":8}},{"mark":{"type":"text","font":"Liberation Serif","fontSize":27,"align":"center","baseline":"alphabetic","color":"black","dx":34.5,"dy":8},"encoding":{"text":{"field":"fn"}}},{"mark":{"type":"text","text":"x","font":"Liberation Serif","fontSize":27,"fontStyle":"italic","align":"center","baseline":"alphabetic","color":"black","dx":67,"dy":8}}]},
{"width":380,"height":276,"data":{"name":"g"},"transform":[{"filter":"datum.r==4"}],
"encoding":{"x":{"field":"x","type":"quantitative","scale":{"domain":[-2.06,6.57],"nice":false,"zero":false},"axis":null},"y":{"field":"y","type":"quantitative","scale":{"domain":[-3.548,3.584],"nice":false,"zero":false},"axis":null}},
"layer":[
{"transform":[{"filter":"datum.k=='v'"}],"mark":{"type":"rule","color":"#aaaaaa","strokeWidth":1.4,"strokeDash":[6,4],"clip":true},"encoding":{"y2":{"field":"y2"}}},
{"transform":[{"filter":"datum.k=='h'"}],"mark":{"type":"rule","color":"#aaaaaa","strokeWidth":1.6,"strokeDash":[5,3],"clip":true},"encoding":{"x2":{"field":"x2"}}},
{"transform":[{"filter":"datum.k=='ay'"}],"mark":{"type":"rule","color":"#777777","strokeWidth":1.3,"clip":true},"encoding":{"y2":{"field":"y2"}}},
{"transform":[{"filter":"datum.k=='ax'"}],"mark":{"type":"rule","color":"#555555","strokeWidth":1.8,"clip":true},"encoding":{"x2":{"field":"x2"}}},
{"transform":[{"filter":"datum.k=='lx'"}],"mark":{"type":"text","style":"lab"},"encoding":{"text":{"field":"t"}}},
{"transform":[{"filter":"datum.k=='ly'"}],"mark":{"type":"text","style":"lab","align":"right","dx":-4},"encoding":{"text":{"field":"t"}}},
{"transform":[{"filter":"datum.k=='c'"}],"mark":{"type":"line","color":"black","strokeWidth":2.6,"interpolate":"monotone","clip":true},"encoding":{"detail":{"field":"b"}}}]}]},
{"spacing":2,"hconcat":[
{"width":256,"height":276,"data":{"name":"eq"},"transform":[{"filter":"datum.col=='cos'"}],"layer":[
{"mark":{"type":"rect","color":"white"},"encoding":{}},
{"mark":{"type":"text","text":"f","font":"Liberation Serif","fontSize":27,"fontStyle":"italic","align":"center","baseline":"alphabetic","color":"black","dx":-70,"dy":8}},{"mark":{"type":"text","text":":","font":"Liberation Serif","fontSize":27,"align":"center","baseline":"alphabetic","color":"black","dx":-45,"dy":8}},{"mark":{"type":"text","text":"y","font":"Liberation Serif","fontSize":27,"fontStyle":"italic","align":"center","baseline":"alphabetic","color":"black","dx":-25.5,"dy":8}},{"mark":{"type":"text","text":"=","font":"Liberation Serif","fontSize":27,"align":"center","baseline":"alphabetic","color":"black","dx":-2.5,"dy":8}},{"mark":{"type":"text","font":"Liberation Serif","fontSize":27,"align":"center","baseline":"alphabetic","color":"black","dx":34.5,"dy":8},"encoding":{"text":{"field":"fn"}}},{"mark":{"type":"text","text":"x","font":"Liberation Serif","fontSize":27,"fontStyle":"italic","align":"center","baseline":"alphabetic","color":"black","dx":67,"dy":8}}]},
{"width":404,"height":276,"data":{"name":"g"},"transform":[{"filter":"datum.r==4"}],
"encoding":{"x":{"field":"x","type":"quantitative","scale":{"domain":[-2.445,6.728],"nice":false,"zero":false},"axis":null},"y":{"field":"y","type":"quantitative","scale":{"domain":[-3.548,3.584],"nice":false,"zero":false},"axis":null}},
"layer":[
{"transform":[{"filter":"datum.k=='v'"}],"mark":{"type":"rule","color":"#aaaaaa","strokeWidth":1.4,"strokeDash":[6,4],"clip":true},"encoding":{"y2":{"field":"y2"}}},
{"transform":[{"filter":"datum.k=='h'"}],"mark":{"type":"rule","color":"#aaaaaa","strokeWidth":1.6,"strokeDash":[5,3],"clip":true},"encoding":{"x2":{"field":"x2"}}},
{"transform":[{"filter":"datum.k=='ay'"}],"mark":{"type":"rule","color":"#777777","strokeWidth":1.3,"clip":true},"encoding":{"y2":{"field":"y2"}}},
{"transform":[{"filter":"datum.k=='ax'"}],"mark":{"type":"rule","color":"#555555","strokeWidth":1.8,"clip":true},"encoding":{"x2":{"field":"x2"}}},
{"transform":[{"filter":"datum.k=='lx'"}],"mark":{"type":"text","style":"lab"},"encoding":{"text":{"field":"t"}}},
{"transform":[{"filter":"datum.k=='ly'"}],"mark":{"type":"text","style":"lab","align":"right","dx":-4},"encoding":{"text":{"field":"t"}}},
{"transform":[{"filter":"datum.k=='c'"}],"mark":{"type":"line","color":"black","strokeWidth":2.6,"interpolate":"monotone","clip":true},"encoding":{"detail":{"field":"b"}}}]}]}]},

{"spacing":6,"hconcat":[
{"spacing":2,"hconcat":[
{"width":248,"height":268,"data":{"name":"eq"},"transform":[{"filter":"datum.col=='sin'"}],"layer":[
{"mark":{"type":"rect","color":"white"},"encoding":{}},
{"mark":{"type":"text","text":"f","font":"Liberation Serif","fontSize":27,"fontStyle":"italic","align":"center","baseline":"alphabetic","color":"black","dx":-70,"dy":8}},{"mark":{"type":"text","text":":","font":"Liberation Serif","fontSize":27,"align":"center","baseline":"alphabetic","color":"black","dx":-45,"dy":8}},{"mark":{"type":"text","text":"y","font":"Liberation Serif","fontSize":27,"fontStyle":"italic","align":"center","baseline":"alphabetic","color":"black","dx":-25.5,"dy":8}},{"mark":{"type":"text","text":"=","font":"Liberation Serif","fontSize":27,"align":"center","baseline":"alphabetic","color":"black","dx":-2.5,"dy":8}},{"mark":{"type":"text","font":"Liberation Serif","fontSize":27,"align":"center","baseline":"alphabetic","color":"black","dx":34.5,"dy":8},"encoding":{"text":{"field":"fn"}}},{"mark":{"type":"text","text":"x","font":"Liberation Serif","fontSize":27,"fontStyle":"italic","align":"center","baseline":"alphabetic","color":"black","dx":67,"dy":8}}]},
{"width":380,"height":268,"data":{"name":"g"},"transform":[{"filter":"datum.r==5"}],
"encoding":{"x":{"field":"x","type":"quantitative","scale":{"domain":[-1.818,6.818],"nice":false,"zero":false},"axis":null},"y":{"field":"y","type":"quantitative","scale":{"domain":[-1.793,1.701],"nice":false,"zero":false},"axis":null}},
"layer":[
{"transform":[{"filter":"datum.k=='v'"}],"mark":{"type":"rule","color":"#aaaaaa","strokeWidth":1.4,"strokeDash":[6,4],"clip":true},"encoding":{"y2":{"field":"y2"}}},
{"transform":[{"filter":"datum.k=='h'"}],"mark":{"type":"rule","color":"#aaaaaa","strokeWidth":1.6,"strokeDash":[4,3],"clip":true},"encoding":{"x2":{"field":"x2"}}},
{"transform":[{"filter":"datum.k=='ay'"}],"mark":{"type":"rule","color":"#777777","strokeWidth":1.3,"clip":true},"encoding":{"y2":{"field":"y2"}}},
{"transform":[{"filter":"datum.k=='ax'"}],"mark":{"type":"rule","color":"#444444","strokeWidth":2,"clip":true},"encoding":{"x2":{"field":"x2"}}},
{"transform":[{"filter":"datum.k=='lx'"}],"mark":{"type":"text","style":"lab"},"encoding":{"text":{"field":"t"}}},
{"transform":[{"filter":"datum.k=='ly'"}],"mark":{"type":"text","style":"lab","align":"right","dx":-4},"encoding":{"text":{"field":"t"}}},
{"transform":[{"filter":"datum.k=='c'"}],"mark":{"type":"line","color":"black","strokeWidth":3.1,"interpolate":"monotone","clip":true},"encoding":{"detail":{"field":"b"}}}]}]},
{"spacing":2,"hconcat":[
{"width":256,"height":268,"data":{"name":"eq"},"transform":[{"filter":"datum.col=='cos'"}],"layer":[
{"mark":{"type":"rect","color":"white"},"encoding":{}},
{"mark":{"type":"text","text":"f","font":"Liberation Serif","fontSize":27,"fontStyle":"italic","align":"center","baseline":"alphabetic","color":"black","dx":-70,"dy":8}},{"mark":{"type":"text","text":":","font":"Liberation Serif","fontSize":27,"align":"center","baseline":"alphabetic","color":"black","dx":-45,"dy":8}},{"mark":{"type":"text","text":"y","font":"Liberation Serif","fontSize":27,"fontStyle":"italic","align":"center","baseline":"alphabetic","color":"black","dx":-25.5,"dy":8}},{"mark":{"type":"text","text":"=","font":"Liberation Serif","fontSize":27,"align":"center","baseline":"alphabetic","color":"black","dx":-2.5,"dy":8}},{"mark":{"type":"text","font":"Liberation Serif","fontSize":27,"align":"center","baseline":"alphabetic","color":"black","dx":34.5,"dy":8},"encoding":{"text":{"field":"fn"}}},{"mark":{"type":"text","text":"x","font":"Liberation Serif","fontSize":27,"fontStyle":"italic","align":"center","baseline":"alphabetic","color":"black","dx":67,"dy":8}}]},
{"width":404,"height":268,"data":{"name":"g"},"transform":[{"filter":"datum.r==5"}],
"encoding":{"x":{"field":"x","type":"quantitative","scale":{"domain":[-2.182,7.0],"nice":false,"zero":false},"axis":null},"y":{"field":"y","type":"quantitative","scale":{"domain":[-1.793,1.701],"nice":false,"zero":false},"axis":null}},
"layer":[
{"transform":[{"filter":"datum.k=='v'"}],"mark":{"type":"rule","color":"#aaaaaa","strokeWidth":1.4,"strokeDash":[6,4],"clip":true},"encoding":{"y2":{"field":"y2"}}},
{"transform":[{"filter":"datum.k=='h'"}],"mark":{"type":"rule","color":"#aaaaaa","strokeWidth":1.6,"strokeDash":[4,3],"clip":true},"encoding":{"x2":{"field":"x2"}}},
{"transform":[{"filter":"datum.k=='ay'"}],"mark":{"type":"rule","color":"#777777","strokeWidth":1.3,"clip":true},"encoding":{"y2":{"field":"y2"}}},
{"transform":[{"filter":"datum.k=='ax'"}],"mark":{"type":"rule","color":"#444444","strokeWidth":2,"clip":true},"encoding":{"x2":{"field":"x2"}}},
{"transform":[{"filter":"datum.k=='lx'"}],"mark":{"type":"text","style":"lab"},"encoding":{"text":{"field":"t"}}},
{"transform":[{"filter":"datum.k=='ly'"}],"mark":{"type":"text","style":"lab","align":"right","dx":-4},"encoding":{"text":{"field":"t"}}},
{"transform":[{"filter":"datum.k=='c'"}],"mark":{"type":"line","color":"black","strokeWidth":3.1,"interpolate":"monotone","clip":true},"encoding":{"detail":{"field":"b"}}}]}]}]},

{"spacing":6,"hconcat":[
{"spacing":2,"hconcat":[
{"width":248,"height":264,"data":{"name":"eq"},"transform":[{"filter":"datum.col=='sin'"}],"layer":[
{"mark":{"type":"rect","color":"white"},"encoding":{}},
{"mark":{"type":"text","text":"f","font":"Liberation Serif","fontSize":27,"fontStyle":"italic","align":"center","baseline":"alphabetic","color":"black","dx":-70,"dy":8}},{"mark":{"type":"text","text":":","font":"Liberation Serif","fontSize":27,"align":"center","baseline":"alphabetic","color":"black","dx":-45,"dy":8}},{"mark":{"type":"text","text":"y","font":"Liberation Serif","fontSize":27,"fontStyle":"italic","align":"center","baseline":"alphabetic","color":"black","dx":-25.5,"dy":8}},{"mark":{"type":"text","text":"=","font":"Liberation Serif","fontSize":27,"align":"center","baseline":"alphabetic","color":"black","dx":-2.5,"dy":8}},{"mark":{"type":"text","font":"Liberation Serif","fontSize":27,"align":"center","baseline":"alphabetic","color":"black","dx":34.5,"dy":8},"encoding":{"text":{"field":"fn"}}},{"mark":{"type":"text","text":"x","font":"Liberation Serif","fontSize":27,"fontStyle":"italic","align":"center","baseline":"alphabetic","color":"black","dx":67,"dy":8}}]},
{"width":380,"height":264,"data":{"name":"g"},"transform":[{"filter":"datum.r==6"}],
"encoding":{"x":{"field":"x","type":"quantitative","scale":{"domain":[-1.898,6.422],"nice":false,"zero":false},"axis":null},"y":{"field":"y","type":"quantitative","scale":{"domain":[-1.779,1.779],"nice":false,"zero":false},"axis":null}},
"layer":[
{"transform":[{"filter":"datum.k=='v'"}],"mark":{"type":"rule","color":"#aaaaaa","strokeWidth":1.4,"strokeDash":[6,4],"clip":true},"encoding":{"y2":{"field":"y2"}}},
{"transform":[{"filter":"datum.k=='h'"}],"mark":{"type":"rule","color":"#aaaaaa","strokeWidth":1.6,"strokeDash":[4,3],"clip":true},"encoding":{"x2":{"field":"x2"}}},
{"transform":[{"filter":"datum.k=='ay'"}],"mark":{"type":"rule","color":"#777777","strokeWidth":1.3,"clip":true},"encoding":{"y2":{"field":"y2"}}},
{"transform":[{"filter":"datum.k=='ax'"}],"mark":{"type":"rule","color":"#444444","strokeWidth":2,"clip":true},"encoding":{"x2":{"field":"x2"}}},
{"transform":[{"filter":"datum.k=='lx'"}],"mark":{"type":"text","style":"lab"},"encoding":{"text":{"field":"t"}}},
{"transform":[{"filter":"datum.k=='ly'"}],"mark":{"type":"text","style":"lab","align":"right","dx":-4},"encoding":{"text":{"field":"t"}}},
{"transform":[{"filter":"datum.k=='c'"}],"mark":{"type":"line","color":"black","strokeWidth":3.1,"interpolate":"monotone","clip":true},"encoding":{"detail":{"field":"b"}}}]}]},
{"spacing":2,"hconcat":[
{"width":256,"height":264,"data":{"name":"eq"},"transform":[{"filter":"datum.col=='cos'"}],"layer":[
{"mark":{"type":"rect","color":"white"},"encoding":{}},
{"mark":{"type":"text","text":"f","font":"Liberation Serif","fontSize":27,"fontStyle":"italic","align":"center","baseline":"alphabetic","color":"black","dx":-70,"dy":8}},{"mark":{"type":"text","text":":","font":"Liberation Serif","fontSize":27,"align":"center","baseline":"alphabetic","color":"black","dx":-45,"dy":8}},{"mark":{"type":"text","text":"y","font":"Liberation Serif","fontSize":27,"fontStyle":"italic","align":"center","baseline":"alphabetic","color":"black","dx":-25.5,"dy":8}},{"mark":{"type":"text","text":"=","font":"Liberation Serif","fontSize":27,"align":"center","baseline":"alphabetic","color":"black","dx":-2.5,"dy":8}},{"mark":{"type":"text","font":"Liberation Serif","fontSize":27,"align":"center","baseline":"alphabetic","color":"black","dx":34.5,"dy":8},"encoding":{"text":{"field":"fn"}}},{"mark":{"type":"text","text":"x","font":"Liberation Serif","fontSize":27,"fontStyle":"italic","align":"center","baseline":"alphabetic","color":"black","dx":67,"dy":8}}]},
{"width":404,"height":264,"data":{"name":"g"},"transform":[{"filter":"datum.r==6"}],
"encoding":{"x":{"field":"x","type":"quantitative","scale":{"domain":[-2.08,6.766],"nice":false,"zero":false},"axis":null},"y":{"field":"y","type":"quantitative","scale":{"domain":[-1.779,1.779],"nice":false,"zero":false},"axis":null}},
"layer":[
{"transform":[{"filter":"datum.k=='v'"}],"mark":{"type":"rule","color":"#aaaaaa","strokeWidth":1.4,"strokeDash":[6,4],"clip":true},"encoding":{"y2":{"field":"y2"}}},
{"transform":[{"filter":"datum.k=='h'"}],"mark":{"type":"rule","color":"#aaaaaa","strokeWidth":1.6,"strokeDash":[4,3],"clip":true},"encoding":{"x2":{"field":"x2"}}},
{"transform":[{"filter":"datum.k=='ay'"}],"mark":{"type":"rule","color":"#777777","strokeWidth":1.3,"clip":true},"encoding":{"y2":{"field":"y2"}}},
{"transform":[{"filter":"datum.k=='ax'"}],"mark":{"type":"rule","color":"#444444","strokeWidth":2,"clip":true},"encoding":{"x2":{"field":"x2"}}},
{"transform":[{"filter":"datum.k=='lx'"}],"mark":{"type":"text","style":"lab"},"encoding":{"text":{"field":"t"}}},
{"transform":[{"filter":"datum.k=='ly'"}],"mark":{"type":"text","style":"lab","align":"right","dx":-4},"encoding":{"text":{"field":"t"}}},
{"transform":[{"filter":"datum.k=='c'"}],"mark":{"type":"line","color":"black","strokeWidth":3.1,"interpolate":"monotone","clip":true},"encoding":{"detail":{"field":"b"}}}]}]}]}
]}]}]}
